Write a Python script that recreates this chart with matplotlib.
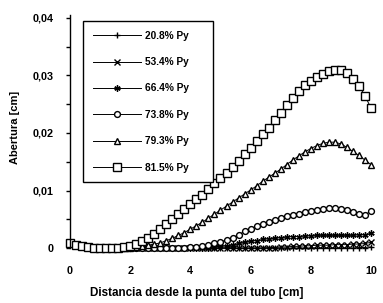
import numpy as np
import matplotlib
matplotlib.use('Agg')
import matplotlib.pyplot as plt
from matplotlib.ticker import MultipleLocator

plt.rcParams['font.family'] = ['Liberation Sans', 'DejaVu Sans']
plt.rcParams['font.weight'] = 'bold'

# distance from the tube tip [cm]
dist = [0.0, 0.2, 0.4, 0.6, 0.8, 1.0, 1.2, 1.4, 1.6, 1.8,
        2.0, 2.2, 2.4, 2.6, 2.8, 3.0, 3.2, 3.4, 3.6, 3.8,
        4.0, 4.2, 4.4, 4.6, 4.8, 5.0, 5.2, 5.4, 5.6, 5.8,
        6.0, 6.2, 6.4, 6.6, 6.8, 7.0, 7.2, 7.4, 7.6, 7.8,
        8.0, 8.2, 8.4, 8.6, 8.8, 9.0, 9.2, 9.4, 9.6, 9.8, 10.0]

# opening [cm] for each load level
py208 = [0.0009, 0.0006, 0.0004, 0.0002, 0.0001, 0.0000, 0.0000, 0.0000, 0.0000, 0.0000,
         0.0000, 0.0000, 0.0000, 0.0000, 0.0000, 0.0000, 0.0000, 0.0000, 0.0000, 0.0000,
         0.0000, 0.0000, 0.0000, 0.0000, 0.0000, 0.0000, 0.0000, 0.0000, 0.0000, 0.0000,
         0.0000, 0.0000, 0.0000, 0.0000, 0.0000, 0.0000, 0.0000, 0.0000, 0.0000, 0.0000,
         0.0000, 0.0000, 0.0000, 0.0000, 0.0000, 0.0000, 0.0000, 0.0000, 0.0001, 0.0001, 0.0002]
py534 = [0.0009, 0.0006, 0.0004, 0.0002, 0.0001, 0.0000, 0.0000, 0.0000, 0.0000, 0.0000,
         0.0000, 0.0000, 0.0000, 0.0000, 0.0000, 0.0000, 0.0000, 0.0000, 0.0000, 0.0000,
         0.0000, 0.0000, 0.0000, 0.0000, 0.0000, 0.0000, 0.0000, 0.0000, 0.0000, 0.0000,
         0.0000, 0.0000, 0.0000, 0.0001, 0.0001, 0.0002, 0.0002, 0.0003, 0.0003, 0.0004,
         0.0004, 0.0005, 0.0005, 0.0005, 0.0006, 0.0006, 0.0006, 0.0007, 0.0007, 0.0008, 0.0010]
py664 = [0.0009, 0.0006, 0.0004, 0.0002, 0.0001, 0.0000, 0.0000, 0.0000, 0.0000, 0.0000,
         0.0000, 0.0000, 0.0000, 0.0000, 0.0000, 0.0000, 0.0000, 0.0000, 0.0000, 0.0000,
         0.0000, 0.0000, 0.0001, 0.0001, 0.0002, 0.0003, 0.0004, 0.0006, 0.0008, 0.0010,
         0.0012, 0.0013, 0.0015, 0.0016, 0.0017, 0.0018, 0.0019, 0.0020, 0.0020, 0.0021,
         0.0021, 0.0022, 0.0022, 0.0022, 0.0022, 0.0022, 0.0022, 0.0022, 0.0023, 0.0023, 0.0026]
py738 = [0.0009, 0.0006, 0.0004, 0.0002, 0.0001, 0.0000, 0.0000, 0.0000, 0.0000, 0.0000,
         0.0000, 0.0000, 0.0000, 0.0000, 0.0000, 0.0000, 0.0000, 0.0001, 0.0001, 0.0001,
         0.0002, 0.0002, 0.0003, 0.0005, 0.0008, 0.0011, 0.0014, 0.0018, 0.0023, 0.0029,
         0.0034, 0.0038, 0.0042, 0.0046, 0.0049, 0.0052, 0.0055, 0.0058, 0.0060, 0.0062,
         0.0064, 0.0066, 0.0068, 0.0069, 0.0069, 0.0068, 0.0066, 0.0063, 0.0060, 0.0058, 0.0064]
py793 = [0.0009, 0.0006, 0.0004, 0.0002, 0.0001, 0.0000, 0.0000, 0.0000, 0.0000, 0.0000,
         0.0001, 0.0002, 0.0003, 0.0005, 0.0007, 0.0009, 0.0013, 0.0017, 0.0022, 0.0027,
         0.0033, 0.0039, 0.0045, 0.0052, 0.0059, 0.0066, 0.0073, 0.0080, 0.0087, 0.0094,
         0.0101, 0.0108, 0.0116, 0.0123, 0.0130, 0.0137, 0.0145, 0.0153, 0.0160, 0.0167,
         0.0173, 0.0178, 0.0182, 0.0184, 0.0184, 0.0181, 0.0175, 0.0168, 0.0161, 0.0153, 0.0145]
py815 = [0.0009, 0.0006, 0.0004, 0.0002, 0.0001, 0.0000, 0.0000, 0.0000, 0.0001, 0.0002,
         0.0004, 0.0007, 0.0012, 0.0018, 0.0025, 0.0033, 0.0041, 0.0050, 0.0059, 0.0068,
         0.0076, 0.0085, 0.0093, 0.0103, 0.0113, 0.0121, 0.0131, 0.0141, 0.0152, 0.0163,
         0.0174, 0.0186, 0.0198, 0.0209, 0.0222, 0.0234, 0.0248, 0.0261, 0.0273, 0.0283,
         0.0291, 0.0298, 0.0303, 0.0307, 0.0309, 0.0309, 0.0304, 0.0294, 0.0282, 0.0265, 0.0243]

labels = ['20.8% Py', '53.4% Py', '66.4% Py', '73.8% Py', '79.3% Py', '81.5% Py']
series = [py208, py534, py664, py738, py793, py815]
markers = ['+', 'x', (6, 2, 0), 'o', '^', 's']
msizes = [4.5, 4, 4.5, 4.2, 4.8, 5.4]

fig = plt.figure(figsize=(3.83, 3.03), dpi=100)
ax = fig.add_axes([70/383, 48/303, 310/383, 240/303])

for vals, lab, mk, ms in zip(series, labels, markers, msizes):
    ax.plot(dist, vals, color='black', lw=0.7, marker=mk, ms=ms,
            mfc='white', mec='black', mew=1.0, label=lab, clip_on=False)

ax.set_xlim(0, 10.3)
ax.set_ylim(-0.0012, 0.0405)
for s in ['top', 'right', 'bottom']:
    ax.spines[s].set_visible(False)
ax.spines['left'].set_bounds(0, 0.0405)
ax.spines['left'].set_linewidth(1.0)

ax.set_yticks([0, 0.01, 0.02, 0.03, 0.04])
ax.set_yticklabels(['0', '0,01', '0,02', '0,03', '0,04'])
ax.yaxis.set_minor_locator(MultipleLocator(0.005))
ax.tick_params(axis='y', which='both', direction='out', length=3, width=1, pad=9, labelsize=7.8)
ax.set_xticks([0, 2, 4, 6, 8, 10])
ax.set_xticklabels(['0', '2', '4', '6', '8', '10'])
ax.tick_params(axis='x', length=0, pad=8, labelsize=7.8)

ax.set_xlabel('Distancia desde la punta del tubo [cm]', fontsize=8.4, fontweight='bold')
ax.xaxis.set_label_coords(0.41, -0.158)
ax.xaxis.label.set_va('center')
ax.set_ylabel('Abertura [cm]', fontsize=8, fontweight='bold')
ax.yaxis.set_label_coords(-0.177, 0.53)
ax.yaxis.label.set_va('center')

leg = ax.legend(loc='upper left', bbox_to_anchor=(83/383, 1 - 180/303, 130/383, 159/303),
                bbox_transform=fig.transFigure, mode='expand',
                frameon=True, fancybox=False, framealpha=1, edgecolor='black', borderaxespad=0,
                handlelength=4.8, labelspacing=1.62, borderpad=0.95, handletextpad=0.4,
                prop={'weight': 'bold', 'size': 7.3})
leg.get_frame().set_linewidth(1.0)

fig.savefig('out.png', dpi=100)
